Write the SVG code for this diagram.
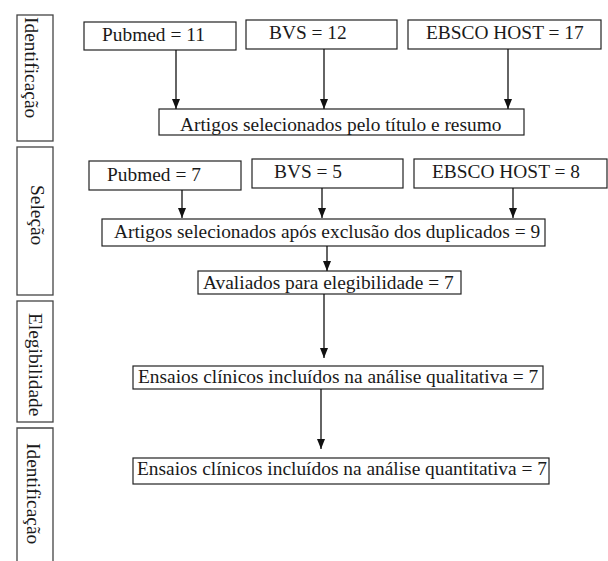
<svg xmlns="http://www.w3.org/2000/svg" width="608" height="561" viewBox="0 0 608 561">
<defs>
<marker id="ah" markerUnits="userSpaceOnUse" markerWidth="10" markerHeight="8" refX="10" refY="4" orient="auto">
<path d="M0,0 L10,4 L0,8 z" fill="#111"/>
</marker>
<style>
.bx{fill:#fff;stroke:#222;stroke-width:1.2}
.st{fill:#fff;stroke:#444;stroke-width:1.3}
.t{font-family:"Liberation Serif","Times New Roman",serif;font-size:19.4px;fill:#1a1a1a}
.c{stroke:#111;stroke-width:1.3;fill:none;marker-end:url(#ah)}
</style>
</defs>
<rect width="608" height="561" fill="#fff"/>
<g id="stage1"><rect class="st" x="17" y="15" width="36" height="126"/><text class="t" transform="translate(25,17) rotate(90)">Identificação</text></g>
<g id="stage2"><rect class="st" x="17" y="147" width="36" height="148"/><text class="t" transform="translate(31,185) rotate(90)">Seleção</text></g>
<g id="stage3"><rect class="st" x="17" y="301" width="36" height="121"/><text class="t" transform="translate(29,313) rotate(90)">Elegibilidade</text></g>
<g id="stage4"><path class="st" d="M17,562 V428 H53 V562"/><text class="t" transform="translate(27,443) rotate(90)">Identificação</text></g>
<g id="pubmed1"><rect class="bx" x="84" y="22" width="152" height="28"/><text class="t" x="102" y="41">Pubmed = 11</text></g>
<g id="bvs1"><rect class="bx" x="246" y="20" width="151" height="29"/><text class="t" x="269" y="39">BVS = 12</text></g>
<g id="ebsco1"><rect class="bx" x="408" y="20" width="193" height="29"/><text class="t" x="426" y="39">EBSCO HOST = 17</text></g>
<g id="titulo"><rect class="bx" x="159" y="109" width="365" height="26"/><text class="t" x="180" y="131">Artigos selecionados pelo título e resumo</text></g>
<g id="pubmed2"><rect class="bx" x="89" y="161" width="152" height="29"/><text class="t" x="107" y="181">Pubmed = 7</text></g>
<g id="bvs2"><rect class="bx" x="252" y="159" width="151" height="29"/><text class="t" x="274" y="178">BVS = 5</text></g>
<g id="ebsco2"><rect class="bx" x="414" y="159" width="193" height="29"/><text class="t" x="432" y="178">EBSCO HOST = 8</text></g>
<g id="duplicados"><rect class="bx" x="102" y="219" width="443" height="27"/><text class="t" x="114" y="238">Artigos selecionados após exclusão dos duplicados = 9</text></g>
<g id="avaliados"><rect class="bx" x="198" y="271" width="263" height="23"/><text class="t" x="203" y="289">Avaliados para elegibilidade = 7</text></g>
<g id="qualitativa"><rect class="bx" x="133" y="366" width="410" height="23"/><text class="t" x="138" y="383">Ensaios clínicos incluídos na análise qualitativa = 7</text></g>
<g id="quantitativa"><rect class="bx" x="133" y="458" width="416" height="26"/><text class="t" x="137" y="475">Ensaios clínicos incluídos na análise quantitativa = 7</text></g>
<g id="connectors">
<line class="c" x1="176" y1="50" x2="176" y2="109"/>
<line class="c" x1="324" y1="49" x2="324" y2="109"/>
<line class="c" x1="508" y1="49" x2="508" y2="109"/>
<line class="c" x1="182" y1="190" x2="182" y2="218"/>
<line class="c" x1="322" y1="188" x2="322" y2="218"/>
<line class="c" x1="513" y1="188" x2="513" y2="218"/>
<line class="c" x1="327" y1="246" x2="327" y2="271"/>
<line class="c" x1="324" y1="294" x2="324" y2="358"/>
<line class="c" x1="321" y1="389" x2="321" y2="449"/>
</g>
</svg>
